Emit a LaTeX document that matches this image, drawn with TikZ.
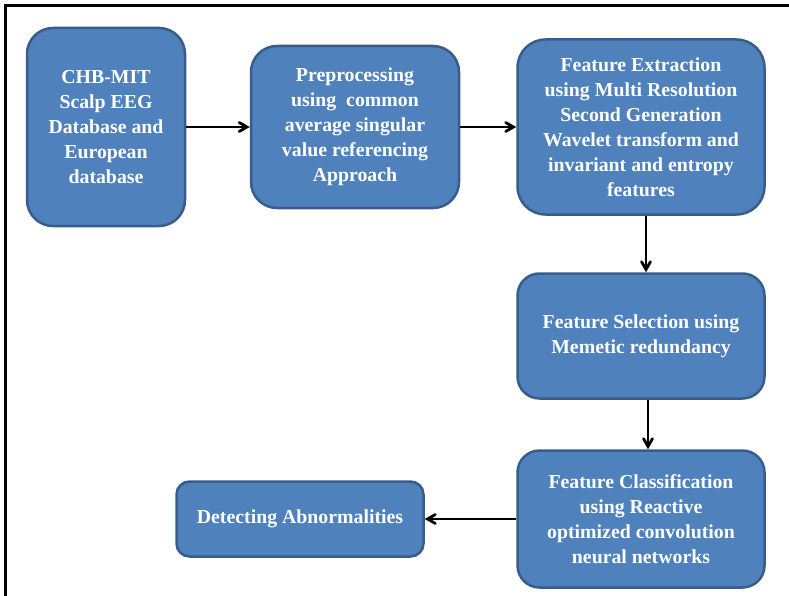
\documentclass[tikz,border=0pt]{standalone}
\usepackage{fontspec}
\setmainfont{Liberation Serif}
\usetikzlibrary{arrows}
\definecolor{boxblue}{HTML}{4F81BD}
\definecolor{boxedge}{HTML}{385D8A}
\begin{document}
\begin{tikzpicture}[->,>=angle 60,line width=2.8pt,x=1pt,y=1pt,
  block/.style={rectangle,rounded corners=22pt,fill=boxblue,draw=boxedge,line width=2.5pt,
    text=white,font=\fontsize{19.8}{25}\selectfont\bfseries,align=center,inner sep=0pt}]

        \useasboundingbox (0,0) rectangle (789,-596);
        \draw[-,line width=3pt] (5.5,-596) -- (5.5,-5.5) -- (789,-5.5);

        \node[block, minimum width=158pt, minimum height=198pt, rounded corners=26pt]
            (data) at (106,-127) {CHB-MIT\\Scalp EEG\\Database and\\European\\database};

        \node[block, minimum width=208pt, minimum height=162pt, rounded corners=26pt, node distance=249pt]
            (prep) [right of = data] {Preprocessing\\using\ \ common\\average singular\\value referencing\\Approach};
        \node[block, minimum width=247pt, minimum height=175pt, rounded corners=28pt, node distance=286pt]
            (feat) [right of = prep] {Feature Extraction\\using Multi Resolution\\Second Generation\\Wavelet transform and\\invariant and entropy\\features};
        \node[block, minimum width=247pt, minimum height=125pt, node distance=209pt]
            (sel)  [below of = feat] {Feature Selection using\\Memetic redundancy};
        \node[block, minimum width=247pt, minimum height=137pt, node distance=183pt]
            (cls)  [below of = sel]  {Feature Classification\\using Reactive\\optimized convolution\\neural networks};
        \node[block, minimum width=247pt, minimum height=75pt, rounded corners=13pt, node distance=341pt]
            (det)  [left of = cls]   {Detecting Abnormalities};

        \path
        (data) edge (prep)
        (prep) edge (feat)
        ([xshift=5pt]feat.south) edge ([xshift=5pt]sel.north)
        ([xshift=7pt]sel.south)  edge ([xshift=7pt]cls.north)
        (cls)  edge (det)
        ;
    \end{tikzpicture}
\end{document}
